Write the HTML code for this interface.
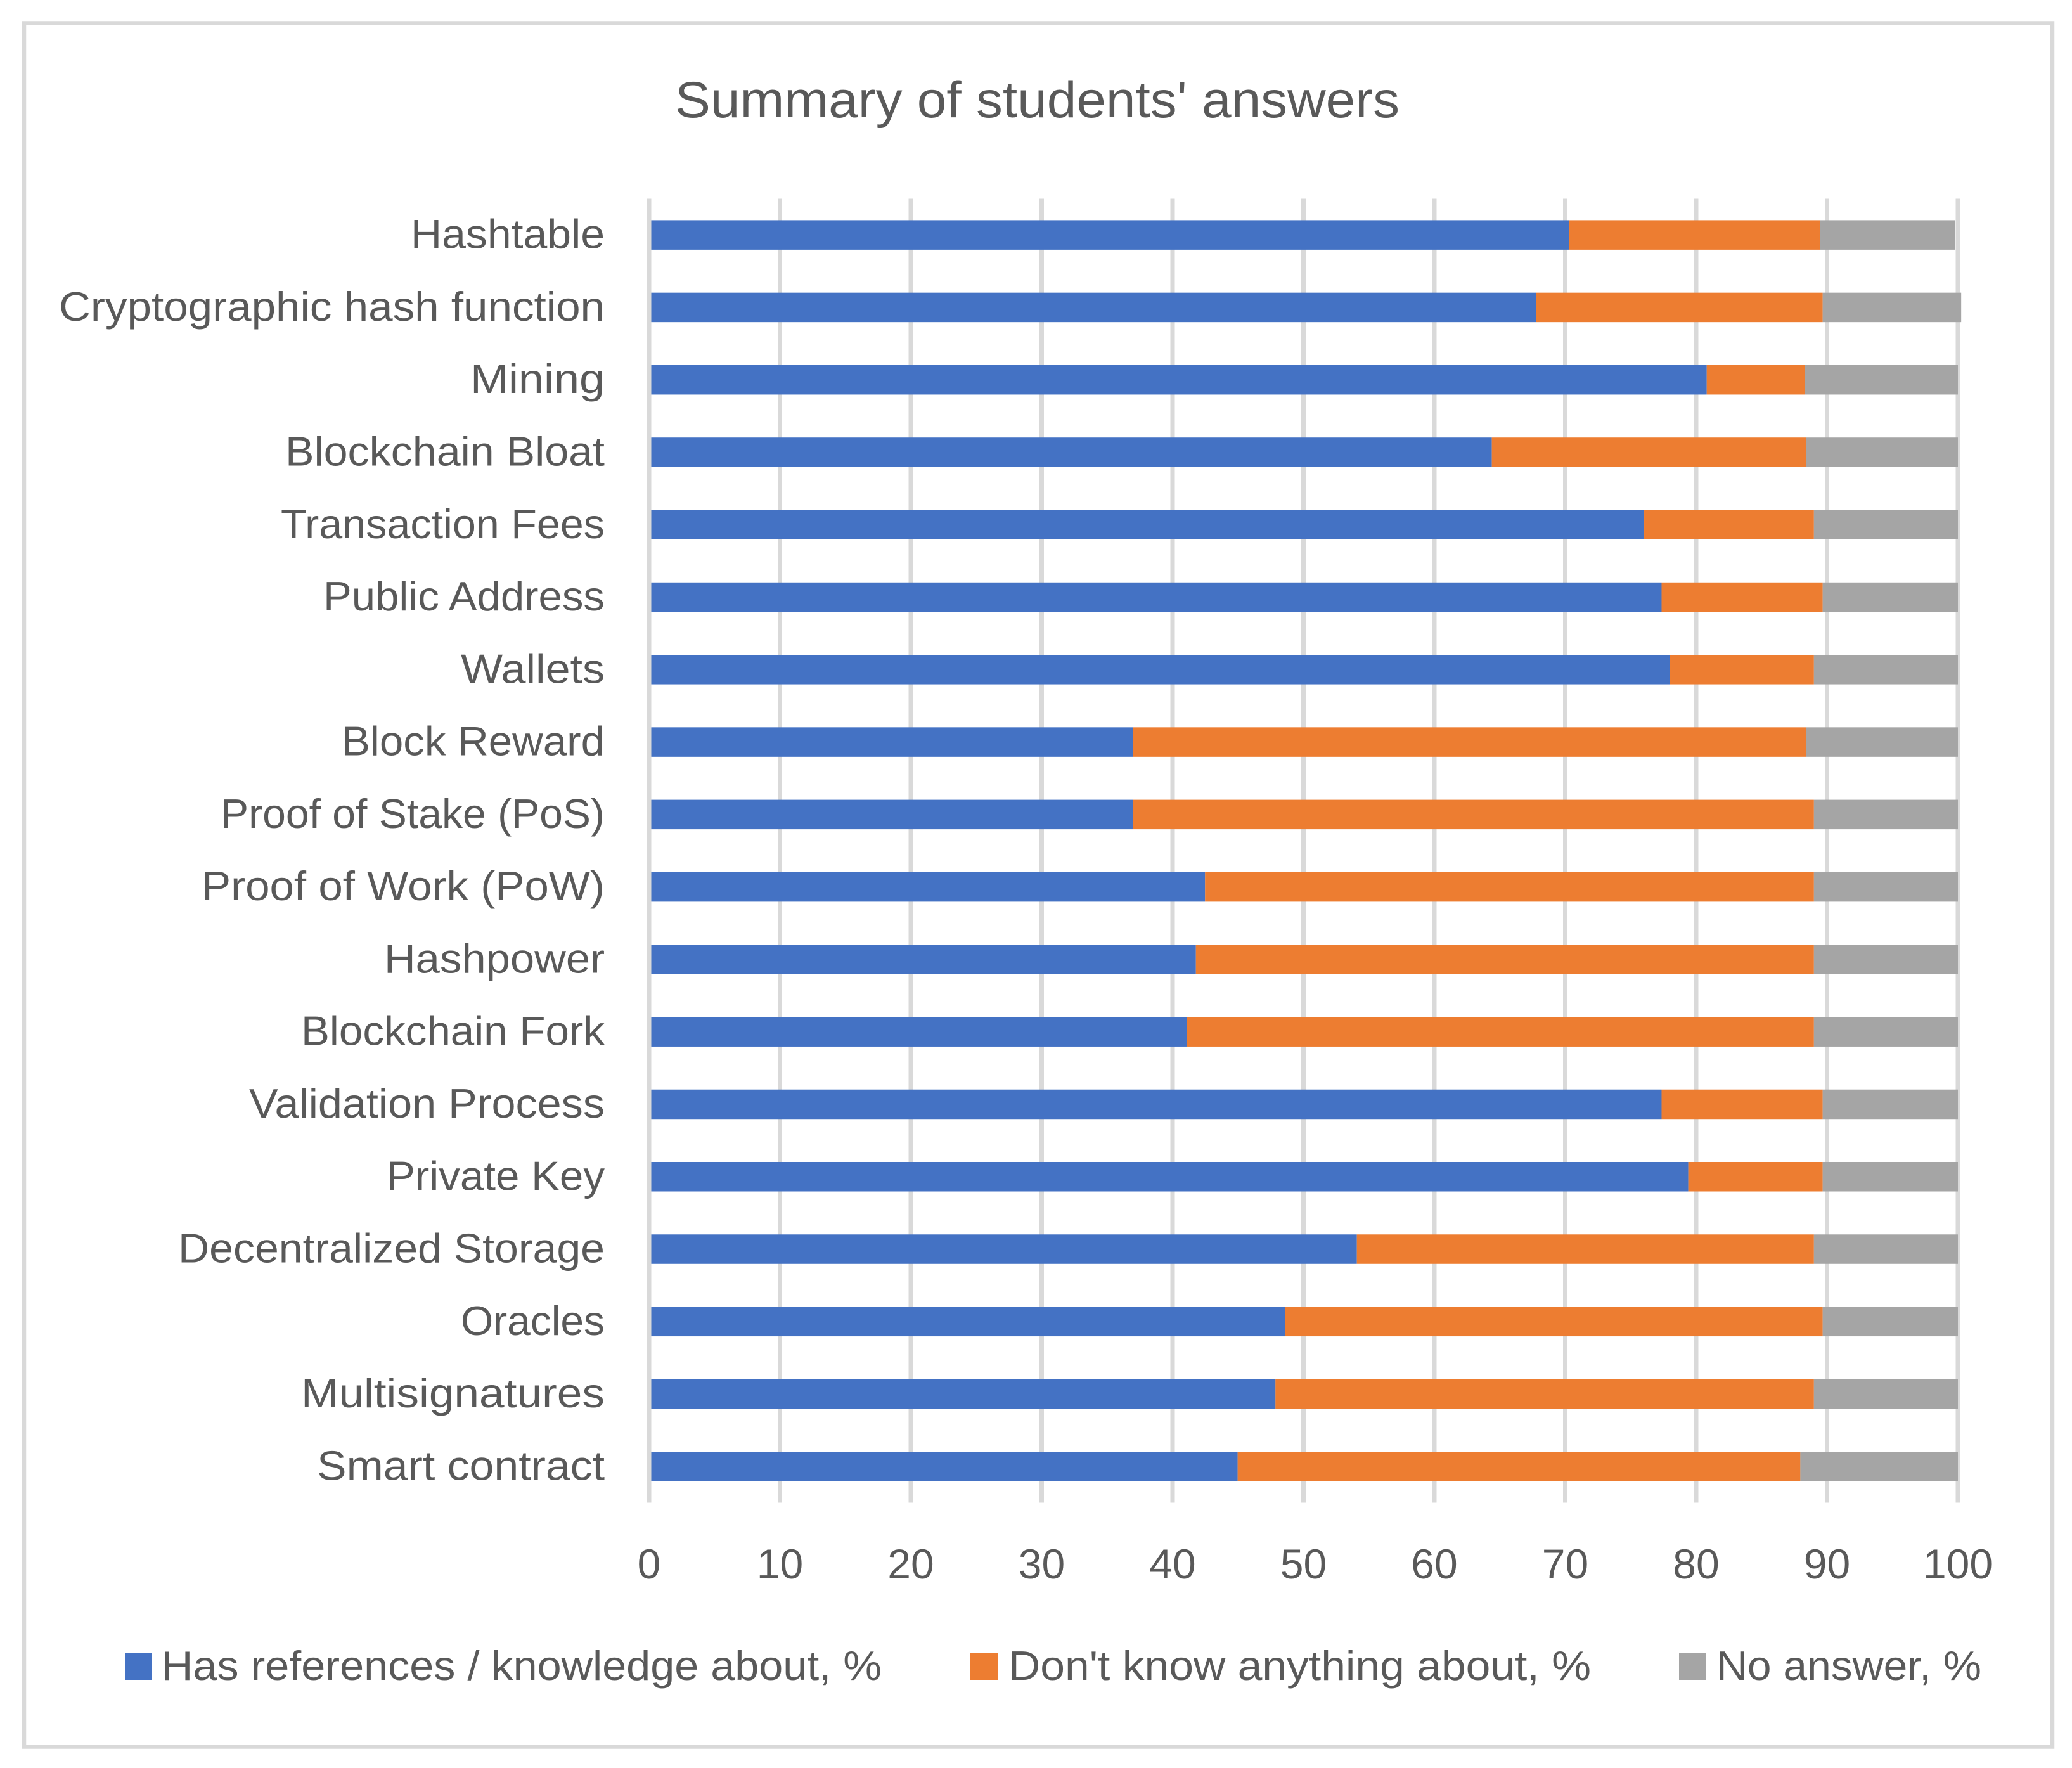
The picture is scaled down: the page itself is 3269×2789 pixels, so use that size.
<!DOCTYPE html>
<html lang="en">
<head>
<meta charset="utf-8">
<title>Summary of students' answers</title>
<style>
  html, body { margin: 0; padding: 0; background: #fff; }
  svg { display: block; }
  text { font-family: "Liberation Sans", Arial, sans-serif; fill: #595959; }
</style>
</head>
<body>
<svg id="chart" xmlns="http://www.w3.org/2000/svg" width="3269" height="2789" viewBox="0 0 3269 2789">
  <rect x="0" y="0" width="3269" height="2789" fill="#ffffff"/>
  <path d="M38 36.5H3238V2755.5H38Z" fill="none" stroke="#d9d9d9" stroke-width="6.5"/>
  <text x="1065" y="185" font-size="81" textLength="1143" lengthAdjust="spacingAndGlyphs">Summary of students' answers</text>
  <g id="grid"></g>
  <g id="bars"></g>
  <g id="axis-zero"></g>
  <g id="cat-labels"></g>
  <g id="tick-labels"></g>
  <g>
    <rect x="197" y="2608" width="43" height="42" fill="#4472c4"/>
    <text x="255" y="2650" font-size="65" textLength="1136" lengthAdjust="spacingAndGlyphs">Has references / knowledge about, %</text>
    <rect x="1530" y="2608" width="44" height="42" fill="#ed7d31"/>
    <text x="1591" y="2650" font-size="65" textLength="919" lengthAdjust="spacingAndGlyphs">Don't know anything about, %</text>
    <rect x="2649" y="2608" width="43" height="42" fill="#a5a5a5"/>
    <text x="2708" y="2650" font-size="65" textLength="418" lengthAdjust="spacingAndGlyphs">No answer, %</text>
  </g>
</svg>
<script>
const categories = ["Hashtable","Cryptographic hash function","Mining","Blockchain Bloat","Transaction Fees","Public Address","Wallets","Block Reward","Proof of Stake (PoS)","Proof of Work (PoW)","Hashpower","Blockchain Fork","Validation Process","Private Key","Decentralized Storage","Oracles","Multisignatures","Smart contract"];
const knowledgeValues = [70.28,67.76,80.81,64.39,76.03,77.36,77.99,36.96,36.96,42.48,41.78,41.07,77.36,79.4,54.08,48.6,47.86,44.97];
const dontKnowValues = [19.2,21.91,7.49,24.02,12.97,12.31,11.01,51.45,52.04,46.52,47.22,47.93,12.31,10.27,34.92,41.07,41.14,42.99];
const noAnswerValues = [10.32,10.58,11.7,11.59,11,10.33,11,11.59,11,11,11,11,10.33,10.33,11,10.33,11,12.04];
const tickLabels = [0,10,20,30,40,50,60,70,80,90,100];

const NS = "http://www.w3.org/2000/svg";
const plot = { left: 1024, right: 3089, top: 313.5, bottom: 2370.5, domainMax: 100 };
const xScale = v => plot.left + (v / plot.domainMax) * (plot.right - plot.left);
const band = (plot.bottom - plot.top) / categories.length;
const yCenter = i => plot.top + band * (i + 0.5);
const barHeight = 46.5;
const seriesColors = ["#4472c4", "#ed7d31", "#a5a5a5"];
const seriesKeys = ["knowledge", "dont-know", "no-answer"];
const seriesValues = [knowledgeValues, dontKnowValues, noAnswerValues];
/* Fitted rendered text lengths, compensating for the substitute typeface. */
const labelFit = {
  "Hashtable": 306, "Cryptographic hash function": 861, "Mining": 212, "Blockchain Bloat": 504,
  "Transaction Fees": 511, "Public Address": 444, "Wallets": 227, "Block Reward": 415,
  "Proof of Stake (PoS)": 606, "Proof of Work (PoW)": 636, "Hashpower": 348, "Blockchain Fork": 479,
  "Validation Process": 561, "Private Key": 344, "Decentralized Storage": 673, "Oracles": 227,
  "Multisignatures": 479, "Smart contract": 454
};

const slug = s => s.toLowerCase().replace(/[^a-z0-9]+/g, "-").replace(/^-|-$/g, "");
const grid = document.getElementById("grid");
const bars = document.getElementById("bars");
const axisZero = document.getElementById("axis-zero");
const catLabels = document.getElementById("cat-labels");
const tickGroup = document.getElementById("tick-labels");

tickLabels.forEach(t => {
  const line = document.createElementNS(NS, "line");
  
  
  line.setAttribute("x1", xScale(t));
  line.setAttribute("x2", xScale(t));
  line.setAttribute("y1", plot.top);
  line.setAttribute("y2", plot.bottom);
  line.setAttribute("stroke", "#d9d9d9");
  line.setAttribute("stroke-width", 7);
  (t === 0 ? axisZero : grid).appendChild(line);

  const label = document.createElementNS(NS, "text");
  
  
  label.setAttribute("x", xScale(t));
  label.setAttribute("y", 2490);
  label.setAttribute("font-size", 66);
  label.setAttribute("text-anchor", "middle");
  label.textContent = t;
  tickGroup.appendChild(label);
});

categories.forEach((name, i) => {
  let cumulative = 0;
  seriesValues.forEach((values, s) => {
    const v = values[i];
    const rect = document.createElementNS(NS, "rect");
    
    
    rect.setAttribute("x", xScale(cumulative));
    rect.setAttribute("y", yCenter(i) - barHeight / 2);
    rect.setAttribute("width", xScale(cumulative + v) - xScale(cumulative));
    rect.setAttribute("height", barHeight);
    rect.setAttribute("fill", seriesColors[s]);
    bars.appendChild(rect);
    cumulative += v;
  });

  const label = document.createElementNS(NS, "text");
  
  
  label.setAttribute("x", 954);
  label.setAttribute("y", yCenter(i) + 21);
  label.setAttribute("font-size", 65);
  label.setAttribute("text-anchor", "end");
  label.setAttribute("textLength", labelFit[name]);
  label.setAttribute("lengthAdjust", "spacingAndGlyphs");
  label.textContent = name;
  catLabels.appendChild(label);
});
</script>
</body>
</html>
